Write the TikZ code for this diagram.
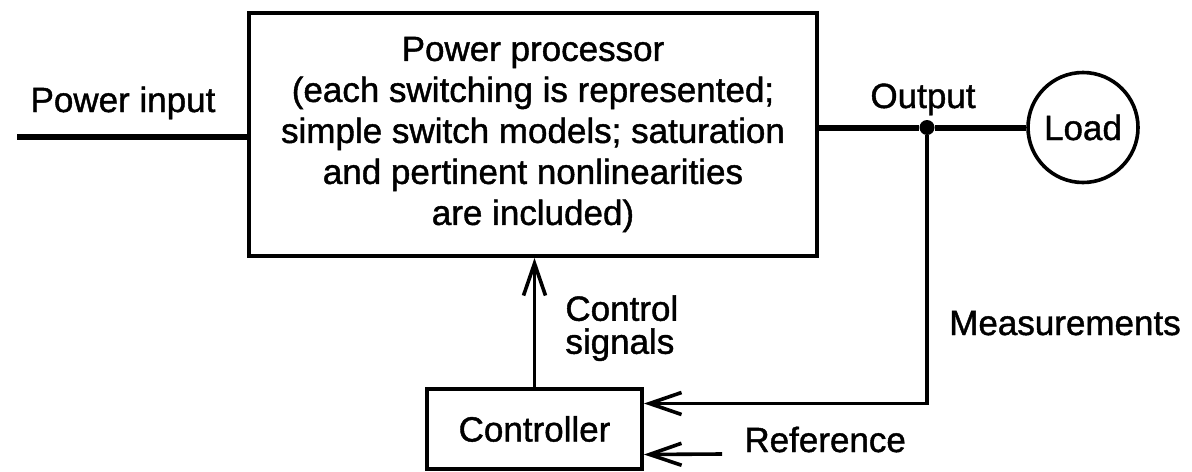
\documentclass[tikz,border=0pt]{standalone}
\usepackage{fontspec}
\setmainfont{Liberation Sans}[FakeBold=1.2]
\usepackage{tikz}
\usetikzlibrary{positioning, arrows.meta, calc}

\tikzset{
  block/.style={draw, line width=2pt, inner sep=0pt, align=center},
  powerline/.style={line width=3pt},
  sigline/.style={line width=1.8pt, -{Straight Barb[length=16pt, width=11pt]}},
}

\begin{document}
\begin{tikzpicture}[x=0.5pt, y=-0.5pt, font=\fontsize{17.5}{20.5}\selectfont]
        \useasboundingbox (0,0) rectangle (1192,471);

        % Blocks
        \node[block, minimum width=284pt, minimum height=121.5pt] (proc) at (533,134.5) {Power processor\\(each switching is represented;\\simple switch models; saturation\\and pertinent nonlinearities\\are included)};
        \node[block, minimum width=107.5pt, minimum height=40pt] (ctrl) at (534.5,429) {Controller};
        \node[draw, circle, line width=1.8pt, minimum size=55pt, inner sep=0pt] (load) at (1083,127.5) {Load};
        \node[circle, fill, minimum size=7.5pt, inner sep=0pt] (tap) at (927,127.5) {};

        % Power path
        \coordinate (pin) at (17,137);
        \draw[powerline] (pin) -- (pin -| proc.west);
        \draw[powerline] (tap -| proc.east) -- (tap) -- (load);

        % Signal paths
        \draw[sigline] (ctrl.north) -- (proc.south -| ctrl.north);
        \draw[sigline] (tap) |- ([yshift=12.75pt]ctrl.east);
        \coordinate (reftail) at (722,454);
        \draw[sigline] (reftail) -- ([yshift=-12.75pt]ctrl.east);

        % Labels
        \node[anchor=base] (pinlabel) at (123,112) {Power input};
        \node[anchor=base] (outlabel) at (923,108) {Output};
        \node[anchor=base] (measlabel) at (1065,335) {Measurements};
        \node[anchor=base west, inner sep=0pt] (reflabel) at (744,452) {Reference};
        \node[anchor=north west, inner sep=0pt, align=left, font=\fontsize{17.5}{16.5}\selectfont] (ctrllabel) at (565,295) {Control\\signals};
\end{tikzpicture}
\end{document}
